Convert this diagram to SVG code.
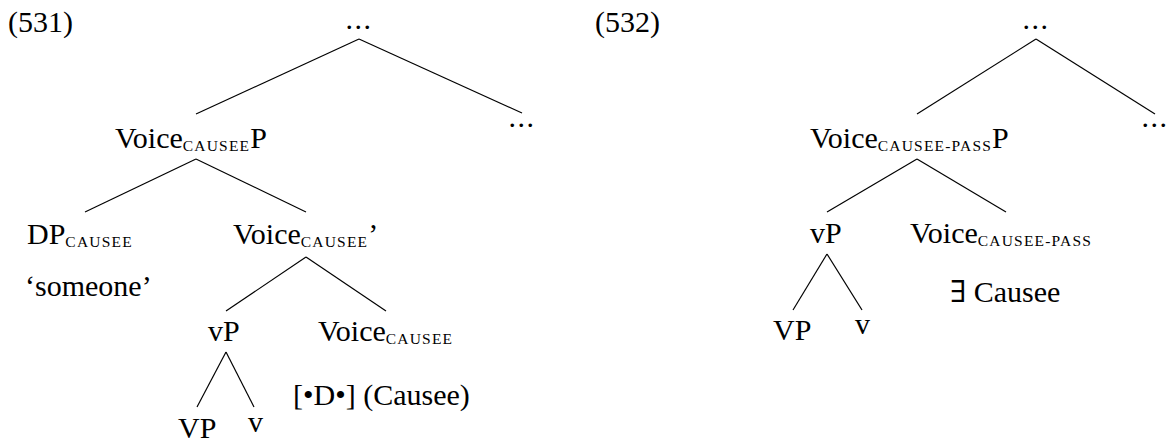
<svg xmlns="http://www.w3.org/2000/svg" width="1171" height="442" viewBox="0 0 1171 442">
<style>
text{font-family:"Liberation Serif","DejaVu Serif",serif;font-size:30px;fill:#000}
.sc{font-size:15.5px;letter-spacing:1.2px}
.dots{letter-spacing:1.5px}
.edge line{stroke:#000;stroke-width:1.2;fill:none}
</style>
<rect width="1171" height="442" fill="#fff"/>
<g id="ex531"><text x="8" y="32">(531)</text></g>
<g id="ex532"><text x="595" y="32">(532)</text></g>
<g class="edge" id="connectors">
<line x1="359" y1="39" x2="196" y2="114"/>
<line x1="359" y1="39" x2="522" y2="113"/>
<line x1="196" y1="159" x2="85" y2="212"/>
<line x1="196" y1="159" x2="306" y2="212"/>
<line x1="306" y1="257" x2="226" y2="311"/>
<line x1="306" y1="257" x2="386" y2="311"/>
<line x1="226" y1="352" x2="197" y2="407"/>
<line x1="226" y1="352" x2="254" y2="407"/>
<line x1="1036" y1="39" x2="917" y2="114"/>
<line x1="1036" y1="39" x2="1155" y2="114"/>
<line x1="917" y1="159" x2="827" y2="212"/>
<line x1="917" y1="159" x2="1006" y2="212"/>
<line x1="827" y1="254" x2="793" y2="310"/>
<line x1="827" y1="254" x2="862" y2="310"/>
</g>
<g id="l-top"><text class="dots" x="359" y="29" text-anchor="middle">...</text></g>
<g id="l-dots"><text class="dots" x="522" y="127" text-anchor="middle">...</text></g>
<g id="l-voicep"><text x="115" y="148">Voice<tspan class="sc" dy="3">CAUSEE</tspan><tspan dy="-3">P</tspan></text></g>
<g id="l-dp"><text x="27" y="244">DP<tspan class="sc" dy="3">CAUSEE</tspan></text>
<text x="25" y="296">‘someone’</text></g>
<g id="l-voicebar"><text x="233" y="244">Voice<tspan class="sc" dy="3">CAUSEE</tspan><tspan dy="-3">’</tspan></text></g>
<g id="l-vp"><text x="208" y="341">vP</text></g>
<g id="l-voice"><text x="318" y="341">Voice<tspan class="sc" dy="3">CAUSEE</tspan></text>
<text x="293" y="405">[•D•] (Causee)</text></g>
<g id="l-VP"><text x="178" y="438">VP</text></g>
<g id="l-v"><text x="248" y="432">v</text></g>
<g id="r-top"><text class="dots" x="1036" y="29" text-anchor="middle">...</text></g>
<g id="r-dots"><text class="dots" x="1155" y="127" text-anchor="middle">...</text></g>
<g id="r-voicep"><text x="810" y="148">Voice<tspan class="sc" dy="3">CAUSEE-PASS</tspan><tspan dy="-3">P</tspan></text></g>
<g id="r-vp"><text x="810" y="243">vP</text></g>
<g id="r-voice"><text x="910" y="243">Voice<tspan class="sc" dy="3">CAUSEE-PASS</tspan></text>
<text x="950" y="302">∃ Causee</text></g>
<g id="r-VP"><text x="773" y="340">VP</text></g>
<g id="r-v"><text x="855" y="334">v</text></g>
</svg>
